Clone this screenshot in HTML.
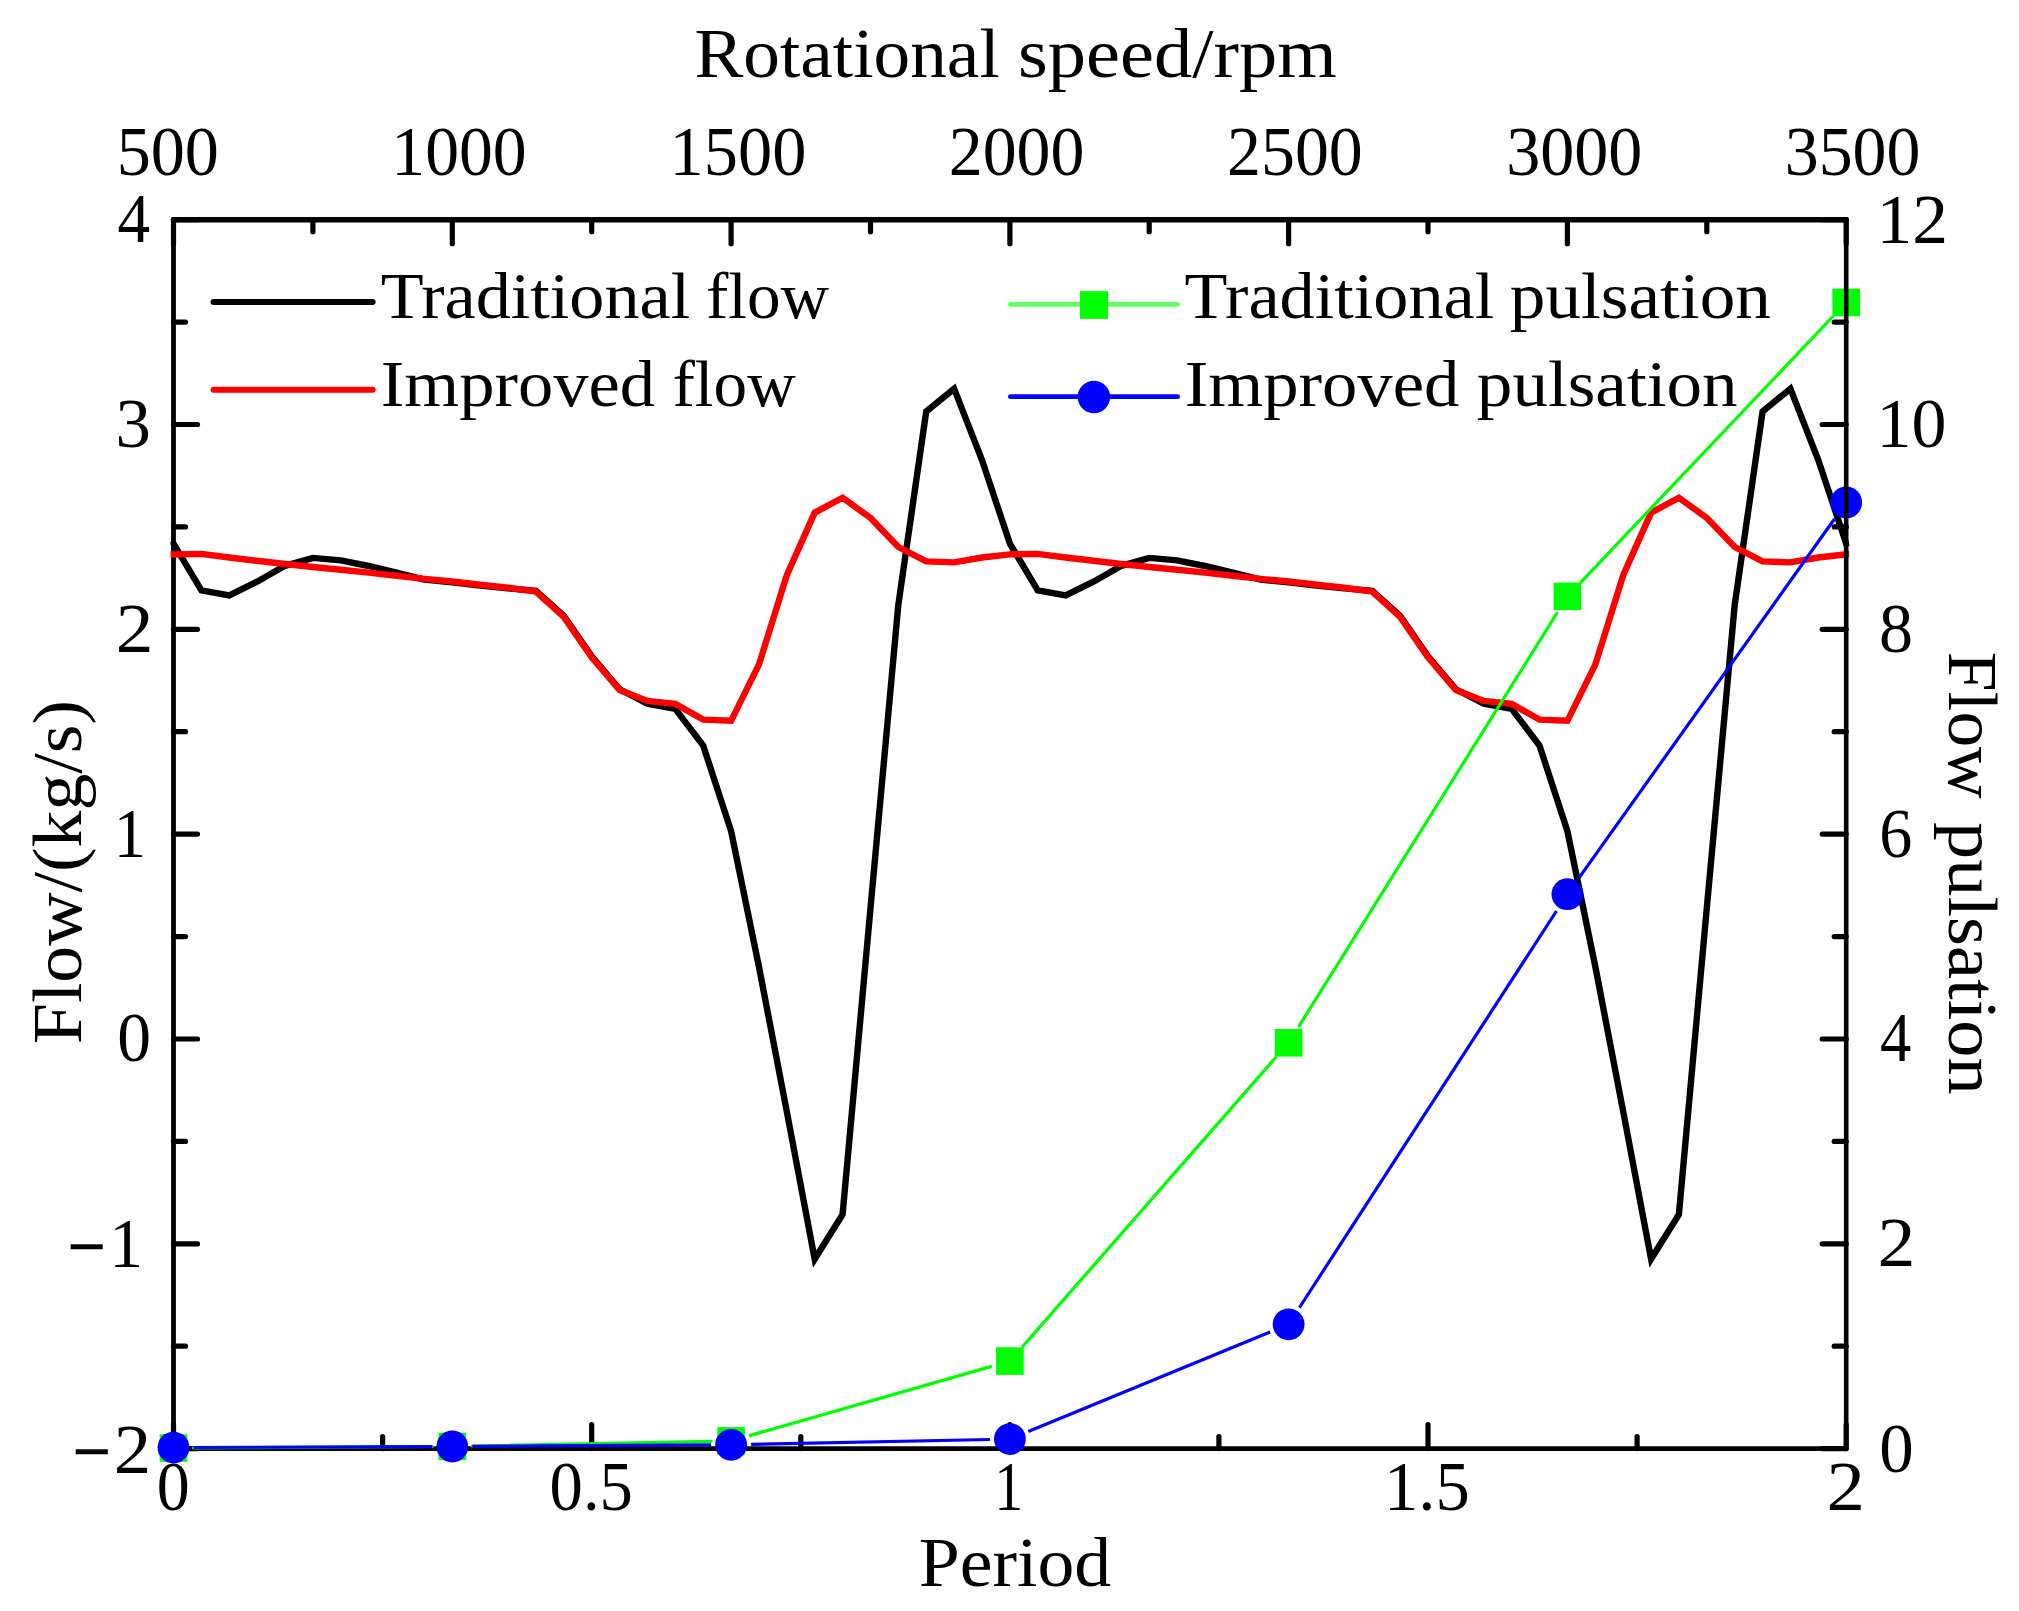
<!DOCTYPE html>
<html lang="en"><head><meta charset="utf-8"><title>Flow and flow pulsation chart</title>
<style>
html,body{margin:0;padding:0;background:#fff;}
svg{display:block;}
svg text{font-family:"Liberation Serif", serif;fill:#000;}
</style></head>
<body>
<svg width="2019" height="1611" viewBox="0 0 2019 1611">
<defs><clipPath id="plot"><rect x="170.4" y="216" width="1679" height="1236"/></clipPath></defs>
<rect width="2019" height="1611" fill="#fff"/>
<!-- layer 1 axes: left + bottom -->
<g stroke="#000" stroke-width="5.2" stroke-linecap="round" fill="none">
<line x1="173.5" y1="1448.6" x2="197.5" y2="1448.6"/>
<line x1="173.5" y1="1346.2" x2="185.5" y2="1346.2"/>
<line x1="173.5" y1="1243.8" x2="197.5" y2="1243.8"/>
<line x1="173.5" y1="1141.4" x2="185.5" y2="1141.4"/>
<line x1="173.5" y1="1039.0" x2="197.5" y2="1039.0"/>
<line x1="173.5" y1="936.6" x2="185.5" y2="936.6"/>
<line x1="173.5" y1="834.1" x2="197.5" y2="834.1"/>
<line x1="173.5" y1="731.7" x2="185.5" y2="731.7"/>
<line x1="173.5" y1="629.3" x2="197.5" y2="629.3"/>
<line x1="173.5" y1="526.9" x2="185.5" y2="526.9"/>
<line x1="173.5" y1="424.5" x2="197.5" y2="424.5"/>
<line x1="173.5" y1="322.1" x2="185.5" y2="322.1"/>
<line x1="173.5" y1="219.7" x2="197.5" y2="219.7"/>
<line x1="173.5" y1="1448.6" x2="173.5" y2="1424.6"/>
<line x1="382.6" y1="1448.6" x2="382.6" y2="1436.6"/>
<line x1="591.7" y1="1448.6" x2="591.7" y2="1424.6"/>
<line x1="800.8" y1="1448.6" x2="800.8" y2="1436.6"/>
<line x1="1009.9" y1="1448.6" x2="1009.9" y2="1424.6"/>
<line x1="1218.9" y1="1448.6" x2="1218.9" y2="1436.6"/>
<line x1="1428.0" y1="1448.6" x2="1428.0" y2="1424.6"/>
<line x1="1637.1" y1="1448.6" x2="1637.1" y2="1436.6"/>
<line x1="1846.2" y1="1448.6" x2="1846.2" y2="1424.6"/>
</g>
<g stroke="#000" fill="none" stroke-linecap="round">
<line x1="173.5" y1="219.7" x2="173.5" y2="1448.6" stroke-width="4.8"/>
<line x1="173.5" y1="1448.6" x2="1846.2" y2="1448.6" stroke-width="4.8"/>
</g>
<!-- flow curves -->
<g clip-path="url(#plot)" fill="none" stroke-width="6.4" stroke-linejoin="miter" stroke-miterlimit="10" stroke-linecap="square">
<polyline stroke="#000" points="173.5,543.6 201.4,590.4 229.3,595.4 257.1,581.7 285.0,565.8 312.9,557.9 340.8,560.4 368.6,566.0 396.5,572.6 424.4,579.6 452.3,582.3 480.2,585.5 508.0,588.4 535.9,590.8 563.8,616.0 591.7,656.2 619.6,689.3 647.4,703.6 675.3,708.8 703.2,745.6 731.1,831.0 758.9,966.5 786.8,1111.5 814.7,1259.0 842.6,1214.4 870.5,908.0 898.3,605.0 926.2,411.5 954.1,388.7 982.0,460.0 1009.9,543.6 1037.7,590.4 1065.6,595.4 1093.5,581.7 1121.4,565.8 1149.2,557.9 1177.1,560.4 1205.0,566.0 1232.9,572.6 1260.8,579.6 1288.6,582.3 1316.5,585.5 1344.4,588.4 1372.3,590.8 1400.1,616.0 1428.0,656.2 1455.9,689.3 1483.8,703.6 1511.7,708.8 1539.5,745.6 1567.4,831.0 1595.3,966.5 1623.2,1111.5 1651.1,1259.0 1678.9,1214.4 1706.8,908.0 1734.7,605.0 1762.6,411.5 1790.4,388.7 1818.3,460.0 1846.2,543.6"/>
<polyline stroke="#ff0000" points="173.5,554.5 201.4,553.9 229.3,557.5 257.1,560.8 285.0,564.0 312.9,567.0 340.8,569.8 368.6,572.6 396.5,575.7 424.4,578.9 452.3,581.5 480.2,584.7 508.0,587.8 535.9,591.6 563.8,616.9 591.7,657.2 619.6,690.0 647.4,700.9 675.3,703.9 703.2,719.6 731.1,720.8 758.9,664.6 786.8,575.2 814.7,512.6 842.6,497.7 870.5,518.0 898.3,547.0 926.2,561.4 954.1,562.4 982.0,557.5 1009.9,554.4 1037.7,553.9 1065.6,557.5 1093.5,560.8 1121.4,564.0 1149.2,567.0 1177.1,569.8 1205.0,572.6 1232.9,575.7 1260.8,578.9 1288.6,581.5 1316.5,584.7 1344.4,587.8 1372.3,591.6 1400.1,616.9 1428.0,657.2 1455.9,690.0 1483.8,700.9 1511.7,703.9 1539.5,719.6 1567.4,720.8 1595.3,664.6 1623.2,575.2 1651.1,512.6 1678.9,497.7 1706.8,518.0 1734.7,547.0 1762.6,561.4 1790.4,562.4 1818.3,557.5 1846.2,554.4"/>
</g>
<!-- pulsation series -->
<g stroke-linecap="round">
<line x1="193.5" y1="1447.9" x2="432.3" y2="1446.5" stroke="#00ff00" stroke-width="3.2"/>
<line x1="472.3" y1="1446.0" x2="711.1" y2="1441.3" stroke="#00ff00" stroke-width="3.2"/>
<line x1="750.3" y1="1435.4" x2="990.6" y2="1366.6" stroke="#00ff00" stroke-width="3.2"/>
<line x1="1023.0" y1="1346.1" x2="1275.5" y2="1057.8" stroke="#00ff00" stroke-width="3.2"/>
<line x1="1299.2" y1="1025.8" x2="1556.8" y2="613.4" stroke="#00ff00" stroke-width="3.2"/>
<line x1="1581.2" y1="581.9" x2="1832.4" y2="317.0" stroke="#00ff00" stroke-width="3.2"/>
</g>
<rect x="159.7" y="1434.2" width="27.6" height="27.6" fill="#00ff00"/>
<rect x="438.5" y="1432.6" width="27.6" height="27.6" fill="#00ff00"/>
<rect x="717.3" y="1427.1" width="27.6" height="27.6" fill="#00ff00"/>
<rect x="996.1" y="1347.3" width="27.6" height="27.6" fill="#00ff00"/>
<rect x="1274.8" y="1029.0" width="27.6" height="27.6" fill="#00ff00"/>
<rect x="1553.6" y="582.6" width="27.6" height="27.6" fill="#00ff00"/>
<rect x="1832.4" y="288.7" width="27.6" height="27.6" fill="#00ff00"/>
<g stroke-linecap="butt">
<line x1="193.5" y1="1447.5" x2="432.3" y2="1446.6" stroke="#0000ff" stroke-width="3.2"/>
<line x1="472.3" y1="1446.4" x2="711.1" y2="1444.9" stroke="#0000ff" stroke-width="3.2"/>
<line x1="751.1" y1="1444.4" x2="989.9" y2="1439.5" stroke="#0000ff" stroke-width="3.2"/>
<line x1="1028.3" y1="1431.5" x2="1270.1" y2="1331.9" stroke="#0000ff" stroke-width="3.2"/>
<line x1="1299.5" y1="1307.5" x2="1556.5" y2="911.0" stroke="#0000ff" stroke-width="3.2"/>
<line x1="1579.0" y1="877.9" x2="1834.6" y2="518.8" stroke="#0000ff" stroke-width="3.2"/>
</g>
<circle cx="173.5" cy="1447.6" r="15.9" fill="#0000ff"/>
<circle cx="452.3" cy="1446.5" r="15.9" fill="#0000ff"/>
<circle cx="731.1" cy="1444.8" r="15.9" fill="#0000ff"/>
<circle cx="1009.9" cy="1439.1" r="15.9" fill="#0000ff"/>
<circle cx="1288.6" cy="1324.3" r="15.9" fill="#0000ff"/>
<circle cx="1567.4" cy="894.2" r="15.9" fill="#0000ff"/>
<circle cx="1846.2" cy="502.5" r="15.9" fill="#0000ff"/>
<!-- layer 2 axes: top + right -->
<g stroke="#000" stroke-width="5.2" stroke-linecap="round" fill="none">
<line x1="1846.2" y1="1448.6" x2="1822.2" y2="1448.6"/>
<line x1="1846.2" y1="1346.2" x2="1834.2" y2="1346.2"/>
<line x1="1846.2" y1="1243.8" x2="1822.2" y2="1243.8"/>
<line x1="1846.2" y1="1141.4" x2="1834.2" y2="1141.4"/>
<line x1="1846.2" y1="1039.0" x2="1822.2" y2="1039.0"/>
<line x1="1846.2" y1="936.6" x2="1834.2" y2="936.6"/>
<line x1="1846.2" y1="834.1" x2="1822.2" y2="834.1"/>
<line x1="1846.2" y1="731.7" x2="1834.2" y2="731.7"/>
<line x1="1846.2" y1="629.3" x2="1822.2" y2="629.3"/>
<line x1="1846.2" y1="526.9" x2="1834.2" y2="526.9"/>
<line x1="1846.2" y1="424.5" x2="1822.2" y2="424.5"/>
<line x1="1846.2" y1="322.1" x2="1834.2" y2="322.1"/>
<line x1="1846.2" y1="219.7" x2="1822.2" y2="219.7"/>
<line x1="173.5" y1="219.7" x2="173.5" y2="243.7"/>
<line x1="312.9" y1="219.7" x2="312.9" y2="231.7"/>
<line x1="452.3" y1="219.7" x2="452.3" y2="243.7"/>
<line x1="591.7" y1="219.7" x2="591.7" y2="231.7"/>
<line x1="731.1" y1="219.7" x2="731.1" y2="243.7"/>
<line x1="870.5" y1="219.7" x2="870.5" y2="231.7"/>
<line x1="1009.9" y1="219.7" x2="1009.9" y2="243.7"/>
<line x1="1149.2" y1="219.7" x2="1149.2" y2="231.7"/>
<line x1="1288.6" y1="219.7" x2="1288.6" y2="243.7"/>
<line x1="1428.0" y1="219.7" x2="1428.0" y2="231.7"/>
<line x1="1567.4" y1="219.7" x2="1567.4" y2="243.7"/>
<line x1="1706.8" y1="219.7" x2="1706.8" y2="231.7"/>
<line x1="1846.2" y1="219.7" x2="1846.2" y2="243.7"/>
</g>
<g stroke="#000" fill="none" stroke-linecap="round">
<line x1="173.5" y1="219.7" x2="1846.2" y2="219.7" stroke-width="5.4"/>
<line x1="1846.2" y1="219.7" x2="1846.2" y2="1448.6" stroke-width="4.6"/>
</g>
<!-- legend -->
<g stroke-linecap="round" fill="none">
<line x1="213.6" y1="302" x2="372.6" y2="302" stroke="#000" stroke-width="6.1"/>
<line x1="213.6" y1="389.7" x2="372.6" y2="389.7" stroke="#ff0000" stroke-width="6.1"/>
<line x1="1010.4" y1="304.3" x2="1177.6" y2="304.3" stroke="#62ff62" stroke-width="4.8"/>
<line x1="1010.4" y1="396.7" x2="1177.6" y2="396.7" stroke="#0000ff" stroke-width="4.8"/>
</g>
<rect x="1080" y="291.1" width="28" height="27.8" fill="#00ff00"/>
<circle cx="1093.9" cy="397" r="16.2" fill="#0000ff"/>
<!-- text -->
<text font-size="69.4"><tspan x="116.67" y="175.00" textLength="102.29" lengthAdjust="spacingAndGlyphs">500</tspan></text>
<text font-size="69.4"><tspan x="391.35" y="175.00" textLength="135.37" lengthAdjust="spacingAndGlyphs">1000</tspan></text>
<text font-size="69.4"><tspan x="669.59" y="175.00" textLength="136.75" lengthAdjust="spacingAndGlyphs">1500</tspan></text>
<text font-size="69.4"><tspan x="948.77" y="175.00" textLength="135.65" lengthAdjust="spacingAndGlyphs">2000</tspan></text>
<text font-size="69.4"><tspan x="1227.07" y="175.00" textLength="135.65" lengthAdjust="spacingAndGlyphs">2500</tspan></text>
<text font-size="69.4"><tspan x="1506.16" y="175.00" textLength="136.17" lengthAdjust="spacingAndGlyphs">3000</tspan></text>
<text font-size="69.4"><tspan x="1784.77" y="175.00" textLength="135.65" lengthAdjust="spacingAndGlyphs">3500</tspan></text>
<text font-size="69.4"><tspan x="117.46" y="242.00" textLength="32.60" lengthAdjust="spacingAndGlyphs">4</tspan></text>
<text font-size="69.4"><tspan x="115.54" y="446.70" textLength="35.42" lengthAdjust="spacingAndGlyphs">3</tspan></text>
<text font-size="69.4"><tspan x="115.74" y="651.60" textLength="37.68" lengthAdjust="spacingAndGlyphs">2</tspan></text>
<text font-size="69.4"><tspan x="113.63" y="856.50" textLength="32.20" lengthAdjust="spacingAndGlyphs">1</tspan></text>
<text font-size="69.4"><tspan x="117.25" y="1061.40" textLength="33.78" lengthAdjust="spacingAndGlyphs">0</tspan></text>
<text font-size="69.4"><tspan x="68.11" y="1269.70" textLength="37.02" lengthAdjust="spacingAndGlyphs" stroke="#000" stroke-width="1.6">−</tspan><tspan x="109.17" y="1266.80" textLength="33.73" lengthAdjust="spacingAndGlyphs">1</tspan></text>
<text font-size="69.4"><tspan x="72.90" y="1474.60" textLength="37.13" lengthAdjust="spacingAndGlyphs" stroke="#000" stroke-width="1.6">−</tspan><tspan x="113.76" y="1472.90" textLength="37.43" lengthAdjust="spacingAndGlyphs">2</tspan></text>
<text font-size="69.4"><tspan x="1876.41" y="242.60" textLength="71.59" lengthAdjust="spacingAndGlyphs">12</tspan></text>
<text font-size="69.4"><tspan x="1876.55" y="447.00" textLength="69.96" lengthAdjust="spacingAndGlyphs">10</tspan></text>
<text font-size="69.4"><tspan x="1879.04" y="651.70" textLength="34.01" lengthAdjust="spacingAndGlyphs">8</tspan></text>
<text font-size="69.4"><tspan x="1879.34" y="857.20" textLength="33.08" lengthAdjust="spacingAndGlyphs">6</tspan></text>
<text font-size="69.4"><tspan x="1880.00" y="1061.30" textLength="31.23" lengthAdjust="spacingAndGlyphs">4</tspan></text>
<text font-size="69.4"><tspan x="1877.52" y="1266.00" textLength="37.93" lengthAdjust="spacingAndGlyphs">2</tspan></text>
<text font-size="69.4"><tspan x="1879.21" y="1472.00" textLength="34.47" lengthAdjust="spacingAndGlyphs">0</tspan></text>
<text font-size="69.4"><tspan x="156.80" y="1510.00" textLength="32.97" lengthAdjust="spacingAndGlyphs">0</tspan></text>
<text font-size="69.4"><tspan x="549.58" y="1510.00" textLength="83.26" lengthAdjust="spacingAndGlyphs">0.5</tspan></text>
<text font-size="69.4"><tspan x="994.31" y="1510.00" textLength="28.87" lengthAdjust="spacingAndGlyphs">1</tspan></text>
<text font-size="69.4"><tspan x="1383.96" y="1510.00" textLength="85.86" lengthAdjust="spacingAndGlyphs">1.5</tspan></text>
<text font-size="69.4"><tspan x="1826.58" y="1510.00" textLength="38.42" lengthAdjust="spacingAndGlyphs">2</tspan></text>
<text font-size="69.4"><tspan x="694.49" y="77.40" textLength="305.27" lengthAdjust="spacingAndGlyphs">Rotational</tspan> <tspan x="1018.00" y="77.40" textLength="318.68" lengthAdjust="spacingAndGlyphs">speed/rpm</tspan></text>
<text font-size="69.4"><tspan x="918.67" y="1585.60" textLength="192.51" lengthAdjust="spacingAndGlyphs">Period</tspan></text>
<text transform="translate(81.00,0) rotate(-90)" font-size="69.4"><tspan x="-1044.13" y="0.00" textLength="344.16" lengthAdjust="spacingAndGlyphs">Flow/(kg/s)</tspan></text>
<text transform="translate(1949.20,0) rotate(90)" font-size="69.4"><tspan x="651.84" y="0.00" textLength="146.84" lengthAdjust="spacingAndGlyphs">Flow</tspan> <tspan x="822.13" y="0.00" textLength="272.52" lengthAdjust="spacingAndGlyphs">pulsation</tspan></text>
<text font-size="66.2"><tspan x="380.74" y="317.80" textLength="309.46" lengthAdjust="spacingAndGlyphs">Traditional</tspan> <tspan x="705.97" y="317.80" textLength="123.16" lengthAdjust="spacingAndGlyphs">flow</tspan></text>
<text font-size="66.2"><tspan x="380.87" y="405.70" textLength="274.18" lengthAdjust="spacingAndGlyphs">Improved</tspan> <tspan x="672.47" y="405.70" textLength="123.27" lengthAdjust="spacingAndGlyphs">flow</tspan></text>
<text font-size="66.2"><tspan x="1184.54" y="317.50" textLength="309.76" lengthAdjust="spacingAndGlyphs">Traditional</tspan> <tspan x="1509.82" y="317.50" textLength="261.01" lengthAdjust="spacingAndGlyphs">pulsation</tspan></text>
<text font-size="66.2"><tspan x="1184.77" y="405.60" textLength="274.58" lengthAdjust="spacingAndGlyphs">Improved</tspan> <tspan x="1476.83" y="405.60" textLength="260.71" lengthAdjust="spacingAndGlyphs">pulsation</tspan></text>
</svg>
</body></html>
